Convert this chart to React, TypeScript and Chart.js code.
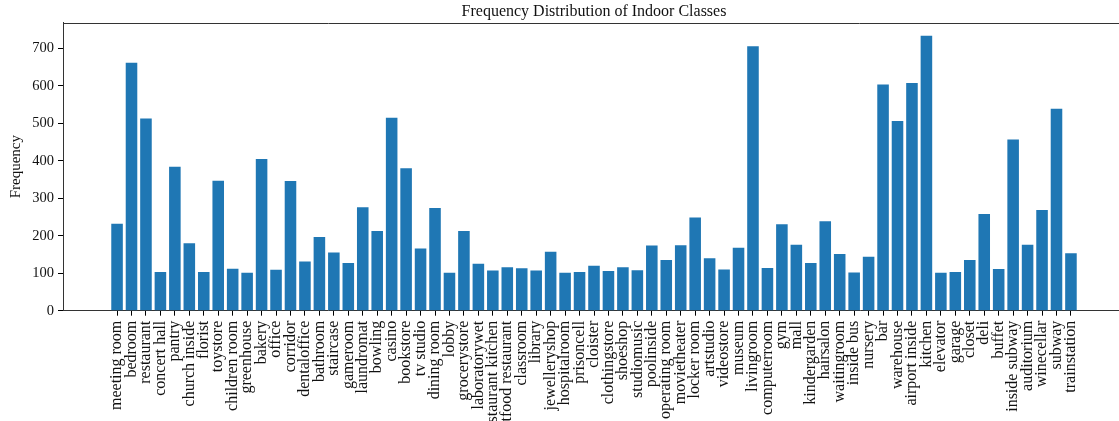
import React, { useEffect, useRef } from 'react';
import { Chart, registerables } from 'chart.js';

Chart.register(...registerables);

const categories = [
  'meeting room', 'bedroom', 'restaurant', 'concert hall', 'pantry', 'church inside', 'florist',
  'toystore', 'children room', 'greenhouse', 'bakery', 'office', 'corridor', 'dentaloffice',
  'bathroom', 'staircase', 'gameroom', 'laundromat', 'bowling', 'casino', 'bookstore', 'tv studio',
  'dining room', 'lobby', 'grocerystore', 'laboratorywet', 'restaurant kitchen', 'fastfood restaurant',
  'classroom', 'library', 'jewelleryshop', 'hospitalroom', 'prisoncell', 'cloister', 'clothingstore',
  'shoeshop', 'studiomusic', 'poolinside', 'operating room', 'movietheater', 'locker room', 'artstudio',
  'videostore', 'museum', 'livingroom', 'computerroom', 'gym', 'mall', 'kindergarden', 'hairsalon',
  'waitingroom', 'inside bus', 'nursery', 'bar', 'warehouse', 'airport inside', 'kitchen', 'elevator',
  'garage', 'closet', 'deli', 'buffet', 'inside subway', 'auditorium', 'winecellar', 'subway',
  'trainstation',
];

const frequencies = [
  232, 662, 513, 103, 384, 180, 103,
  347, 112, 101, 405, 109, 346, 131,
  197, 155, 127, 276, 213, 515, 380, 166,
  274, 101, 213, 125, 107, 116,
  113, 107, 157, 101, 103, 120, 106,
  116, 108, 174, 135, 175, 249, 140,
  110, 168, 706, 114, 231, 176, 127, 239,
  151, 102, 144, 604, 506, 608, 734, 101,
  103, 135, 258, 111, 457, 176, 269, 539,
  153,
];

const yTickValues = [0, 100, 200, 300, 400, 500, 600, 700];
const chartTitle = 'Frequency Distribution of Indoor Classes';
const yAxisLabel = 'Frequency';

const FONT = '"Liberation Serif", "DejaVu Serif", serif';

export default function App() {
  const ref = useRef<HTMLCanvasElement | null>(null);

  useEffect(() => {
    if (!ref.current) return;
    const frame = {
      id: 'topFrame',
      afterDraw(chart: any) {
        const { ctx, chartArea } = chart;
        ctx.save();
        ctx.strokeStyle = '#333';
        ctx.lineWidth = 1;
        ctx.beginPath();
        ctx.moveTo(chartArea.left, Math.round(chartArea.top) + 0.5);
        ctx.lineTo(chartArea.right, Math.round(chartArea.top) + 0.5);
        ctx.stroke();
        ctx.restore();
      },
    };

    const chart = new Chart(ref.current, {
      type: 'bar',
      data: {
        datasets: [
          {
            data: categories.map((_, i) => ({ x: i, y: frequencies[i] })),
            backgroundColor: '#1f77b4',
            borderWidth: 0,
            categoryPercentage: 1,
            barPercentage: 0.8,
          },
        ],
      },
      options: {
        animation: false,
        responsive: false,
        layout: { padding: 0 },
        plugins: {
          legend: { display: false },
          tooltip: { enabled: false },
          title: {
            display: true,
            text: chartTitle,
            fullSize: false,
            color: '#111',
            font: { family: FONT, size: 16, weight: 'normal' },
            padding: { top: 2, bottom: 1.5 },
          },
        },
        scales: {
          x: {
            type: 'linear',
            min: -3.74,
            max: 69.74,
            offset: false,
            grid: {
              display: true,
              drawOnChartArea: false,
              drawTicks: true,
              tickLength: 5,
              tickColor: '#000',
              tickWidth: 1,
              offset: false,
            },
            border: { display: true, color: '#333', width: 1 },
            ticks: {
              autoSkip: false,
              minRotation: 90,
              maxRotation: 90,
              padding: 5,
              color: '#111',
              font: { family: FONT, size: 16 },
              callback: (v: any) => categories[v as number] ?? '',
            },
            afterBuildTicks: (s: any) => {
              s.ticks = categories.map((_, i) => ({ value: i }));
            },
            afterFit: (s: any) => {
              s.height = 110.3;
            },
          },
          y: {
            min: 0,
            max: 768.6,
            grid: {
              display: true,
              drawOnChartArea: false,
              drawTicks: true,
              tickLength: 5,
              tickColor: '#000',
              tickWidth: 1,
            },
            border: { display: true, color: '#333', width: 1 },
            ticks: {
              padding: 4,
              color: '#111',
              font: { family: FONT, size: 14.5 },
            },
            afterBuildTicks: (s: any) => {
              s.ticks = yTickValues.map((v) => ({ value: v }));
            },
            afterFit: (s: any) => {
              s.width = 63;
            },
            title: {
              display: true,
              text: yAxisLabel,
              color: '#111',
              font: { family: FONT, size: 15 },
              padding: { top: 7, bottom: 0 },
            },
          },
        },
      },
      plugins: [frame],
    } as any);

    return () => chart.destroy();
  }, []);

  return (
    <div
      style={{
        position: 'fixed',
        left: 0,
        top: 0,
        width: 1119,
        height: 421,
        overflow: 'hidden',
        background: '#fff',
      }}
    >
      <canvas ref={ref} width={1125} height={421} style={{ display: 'block' }} />
    </div>
  );
}
